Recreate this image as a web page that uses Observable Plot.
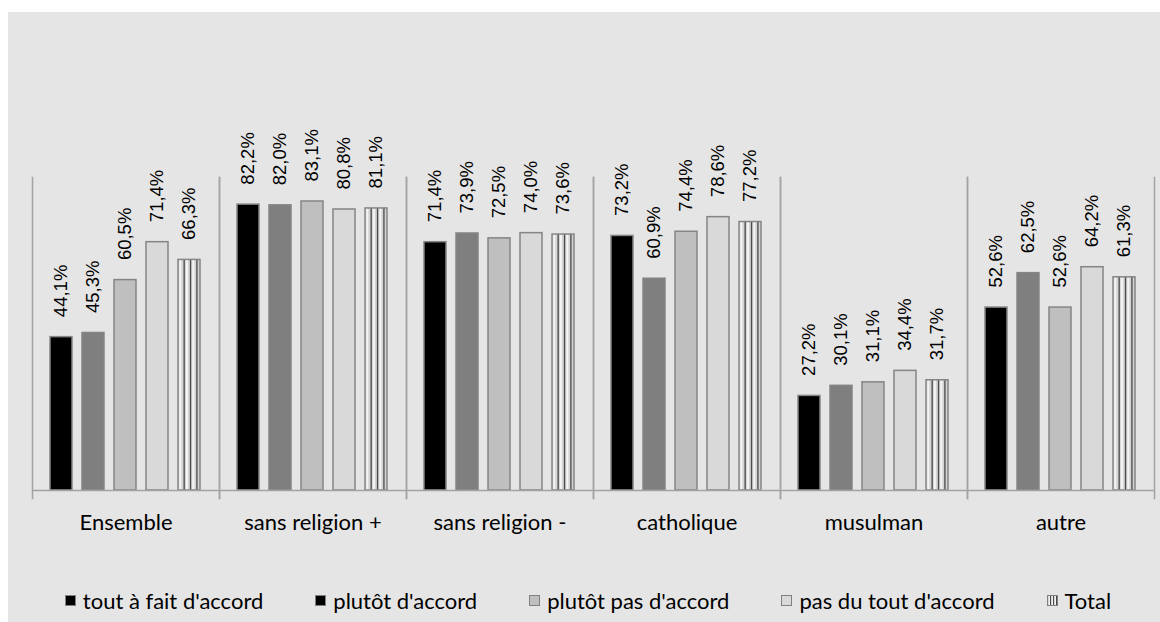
<!DOCTYPE html>
<html><head><meta charset="utf-8">
<script src="https://cdn.jsdelivr.net/npm/d3@7"></script>
<script src="https://cdn.jsdelivr.net/npm/@observablehq/plot@0.6"></script>
<style>
body{margin:0;background:#fff;width:1160px;height:622px;overflow:hidden;position:relative}
#panel{position:absolute;left:8px;top:12px;width:1152px;height:610px;background:#e5e5e5}
#chart{position:absolute;left:0;top:0}
#legend{position:absolute;left:0;top:576px;width:1160px;height:24px;display:flex;justify-content:center;gap:52px}
.leg{display:flex;align-items:center;font-family:Lato,sans-serif;font-size:22px;color:#000;white-space:nowrap}
.sw{display:inline-block;width:11px;height:11px;box-sizing:border-box;border:1.5px solid #808080;margin-right:7px}
</style></head>
<body>
<svg width="0" height="0" style="position:absolute">
 <defs>
  <pattern id="stripes" patternUnits="objectBoundingBox" patternContentUnits="objectBoundingBox" width="1" height="1">
   <rect x="0" y="0" width="1" height="1" fill="#d4d4d4"/>
   <rect x="0.06" y="0" width="0.09" height="1" fill="#f4f4f4"/>
   <rect x="0.25" y="0" width="0.06" height="1" fill="#4a4a4a"/>
   <rect x="0.36" y="0" width="0.09" height="1" fill="#f4f4f4"/>
   <rect x="0.54" y="0" width="0.06" height="1" fill="#4a4a4a"/>
   <rect x="0.65" y="0" width="0.09" height="1" fill="#f4f4f4"/>
   <rect x="0.83" y="0" width="0.06" height="1" fill="#4a4a4a"/>
  </pattern>
 </defs>
</svg>
<div id="panel"><div id="chart"></div><div id="legend"></div></div>
<script>
const categories = ["Ensemble","sans religion +","sans religion -","catholique","musulman","autre"];
const series = ["tout à fait d'accord","plutôt d'accord","plutôt pas d'accord","pas du tout d'accord","Total"];
const toutAFait   = [44.1, 82.2, 71.4, 73.2, 27.2, 52.6];
const plutot      = [45.3, 82.0, 73.9, 60.9, 30.1, 62.5];
const plutotPas   = [60.5, 83.1, 72.5, 74.4, 31.1, 52.6];
const pasDuTout   = [71.4, 80.8, 74.0, 78.6, 34.4, 64.2];
const total       = [66.3, 81.1, 73.6, 77.2, 31.7, 61.3];
const seriesValues = [toutAFait, plutot, plutotPas, pasDuTout, total];
const fills = ["#000000","#7f7f7f","#bfbfbf","#d9d9d9","url(#stripes)"];
const legendSwatch = ["#000000","#000000","#bfbfbf","#d9d9d9","repeating-linear-gradient(90deg,#d4d4d4 0 1px,#f4f4f4 1px 2px,#4a4a4a 2px 3px)"];

const data = [];
categories.forEach((c, i) => series.forEach((s, j) => data.push({cat: c, serie: s, value: seriesValues[j][i]})));
const fmt = v => d3.format(".1f")(v).replace(".", ",") + "%";

const plot = Plot.plot({
  width: 1152, height: 530,
  marginTop: 165, marginBottom: 52, marginLeft: 23, marginRight: 5,
  style: {background: "transparent", fontFamily: "Lato, sans-serif", fontSize: "22px", color: "#000", overflow: "visible"},
  fx: {domain: categories, padding: 0, tickSize: 0, tickPadding: 24, label: null},
  x: {domain: series, paddingInner: 0.3, paddingOuter: 0.515, axis: null},
  y: {domain: [0, 90], axis: null},
  color: {domain: series, range: fills},
  marks: [
    Plot.frame({anchor: "left", stroke: "#a3a3a3", strokeWidth: 1.5, insetBottom: -8}),
    Plot.frame({anchor: "right", stroke: "#a3a3a3", strokeWidth: 1.5, insetBottom: -8}),
    Plot.barY(data, {fx: "cat", x: "serie", y: "value", fill: "serie", stroke: "#858585", strokeWidth: 1.5}),
    Plot.ruleY([0], {stroke: "#a3a3a3", strokeWidth: 1.5}),
    Plot.text(data, {fx: "cat", x: "serie", y: "value", text: d => fmt(d.value), rotate: -90, textAnchor: "start", dy: -20, fontSize: 18.5, fontFamily: "Liberation Sans, Arial, sans-serif", fill: "#000"})
  ]
});
document.getElementById("chart").appendChild(plot);

const legend = document.getElementById("legend");
series.forEach((s, i) => {
  const d = document.createElement("div");
  d.className = "leg";
  const sw = document.createElement("span");
  sw.className = "sw";
  sw.style.background = legendSwatch[i];
  const t = document.createElement("span");
  t.textContent = s;
  d.appendChild(sw); d.appendChild(t);
  legend.appendChild(d);
});
</script>
</body></html>
